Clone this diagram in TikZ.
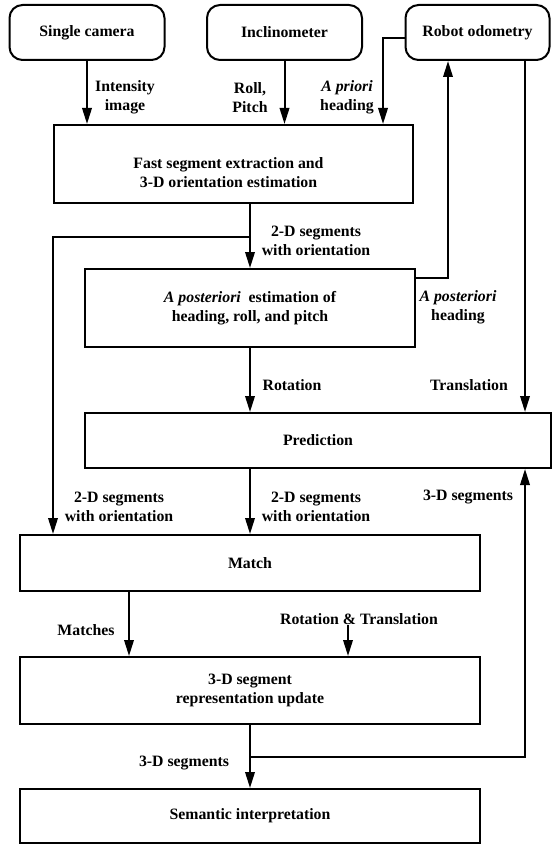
\documentclass[tikz,border=0pt]{standalone}
\usepackage{fontspec}
\setmainfont{Liberation Serif}
\usepackage{tikz}
\usetikzlibrary{arrows, arrows.meta, calc, positioning}

\tikzset{
  txt/.style={font=\fontsize{15.8}{19}\selectfont\bfseries, align=center, inner sep=0pt},
  box/.style={txt, draw, line width=2pt, inner sep=0pt},
  srcbox/.style={box, rounded corners=13pt, minimum width=155pt, minimum height=55pt},
  arr/.style={line width=2pt, -{Triangle[length=16pt,width=9.5pt]}},
  wire/.style={line width=2pt}
}

\begin{document}
\begin{tikzpicture}[x=1pt, y=-1pt]
  \useasboundingbox (0,0) rectangle (551,845);

  % sources
  \node [srcbox] (cam)  at (87,32.5)    {Single camera};
  \node [srcbox] (incl) at (284.5,32.5) {Inclinometer};
  \node [srcbox, minimum width=144pt] (odo) at (477.5,32.5) {Robot odometry};

  % processing boxes
  \node [box, minimum width=359pt, minimum height=78pt,
         label={[txt, yshift=-9pt, xshift=-5pt]center:Fast segment extraction and\\3-D orientation estimation}]
        (fast) at (233.5,164) {};
  \node [box, minimum width=330pt, minimum height=78pt] (post) at (250,308)
        {\textit{A posteriori}~ estimation of\\heading, roll, and pitch};
  \node [box, minimum width=466pt, minimum height=55pt] (pred) at (318,440.5) {Prediction};
  \node [box, minimum width=460pt, minimum height=56pt] (match) at (250,563) {Match};
  \node [box, minimum width=460pt, minimum height=67pt] (upd) at (250,690.5)
        {3-D segment\\representation update};
  \node [box, minimum width=460pt, minimum height=54pt] (sem) at (250,816) {Semantic interpretation};

  % labels
  \node [txt] (lblint)   at (125,97.5)  {Intensity\\image};
  \node [txt] (lblroll)  at (250,97.5)  {Roll,\\Pitch};
  \node [txt] (lblprio)  at (347,97.5)  {\textit{A priori}\\heading};
  \node [txt] (lblseg1)  at (316,241)   {2-D segments\\with orientation};
  \node [txt] (lblpost)  at (458,307.5) {\textit{A posteriori}\\heading};
  \node [txt] (lblrot)   at (292,385)   {Rotation};
  \node [txt] (lbltrans) at (469,385)   {Translation};
  \node [txt] (lblseg2)  at (119,506.5) {2-D segments\\with orientation};
  \node [txt] (lblseg3)  at (316,506.5) {2-D segments\\with orientation};
  \node [txt] (lbl3da)   at (468,497)   {3-D segments};
  \node [txt] (lblmatch) at (86,630)    {Matches};
  \node [txt] (lblrt)    at (359,619)   {Rotation \& Translation};
  \node [txt] (lbl3db)   at (184,763)   {3-D segments};

  \coordinate (split1) at (250,237);
  \coordinate (split2) at (250,757);

  % connectors
  \draw [arr] (cam.south) -- (cam.south |- fast.north);
  \draw [arr] (incl.south) -- (incl.south |- fast.north);
  \draw [arr] ([yshift=-5.5pt]odo.west) -| ([xshift=-31pt]fast.north east);
  \draw [arr] (post.north |- fast.south) -- (post.north);
  \draw [arr] (split1) -| ([xshift=34pt]match.north west);
  \draw [arr] ([yshift=-10pt]post.north east) -| ([xshift=-29.5pt]odo.south);
  \draw [arr] (post.south) -- (post.south |- pred.north);
  \draw [arr] ([xshift=-25.5pt]odo.south east) -- ([xshift=-25.5pt]odo.south east |- pred.north);
  \draw [arr] (match.north |- pred.south) -- (match.north);
  \draw [arr] ([xshift=110pt]match.south west) -- ([xshift=110pt]upd.north west);
  \draw [arr] ([xshift=-11pt]lblrt.south) -- ([xshift=-11pt]lblrt.south |- upd.north);
  \draw [arr] (upd.south) -- (sem.north);
  \draw [arr] (split2) -| ([xshift=-25.5pt]odo.south east |- pred.south);
\end{tikzpicture}
\end{document}
